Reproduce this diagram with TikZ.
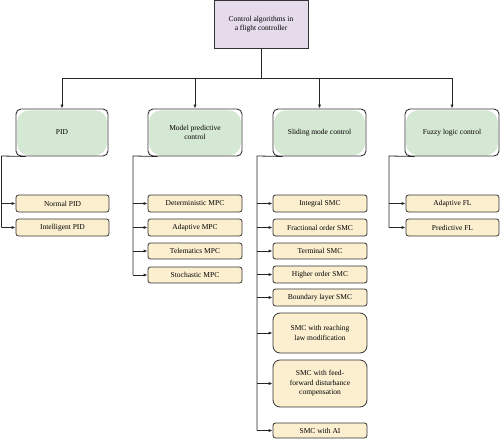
\documentclass[tikz,border=0pt]{standalone}
\usepackage{fontspec}
\setmainfont{Liberation Serif}
\usetikzlibrary{arrows.meta,backgrounds,positioning}
\definecolor{topfill}{HTML}{E6DBEA}
\definecolor{greenfill}{HTML}{D5E8D3}
\definecolor{tanfill}{HTML}{FCEFD0}
\definecolor{edge}{HTML}{333333}
\tikzset{
  topbox/.style={draw=edge, line width=0.9pt, fill=topfill, minimum width=94pt, minimum height=48pt, inner sep=0pt, align=center, font=\fontsize{7.5}{9.5}\selectfont},
  mainbox/.style={draw=edge, line width=0.9pt, rounded corners=5pt, minimum width=92pt, minimum height=47pt, inner sep=0pt, align=center, font=\fontsize{7.5}{9.5}\selectfont},
  leafbox/.style={draw=edge, line width=0.8pt, fill=tanfill, rounded corners=2.5pt, minimum width=93pt, minimum height=17pt, inner sep=0pt, align=center, font=\fontsize{7.5}{9.5}\selectfont},
  bigleaf/.style={leafbox, rounded corners=7pt},
  conn/.style={draw=black!85, line width=0.8pt},
  arr/.style={conn, -{Latex[length=4pt,width=3.2pt]}},
}
\begin{document}
\begin{tikzpicture}[x=1pt,y=-1pt]
\useasboundingbox (0,0) rectangle (500,439);
% top
\node[topbox] (top) at (261,24) {Control algorithms in\\a flight controller};
% level 1
\node[mainbox] (pid) at (62,132.5) {PID};
\node[mainbox, minimum width=94pt] (mpc) at (195,132.5) {Model predictive\\control};
\node[mainbox, minimum width=93pt] (smc) at (319.5,132.5) {Sliding mode control};
\node[mainbox, minimum width=94pt] (flc) at (452,132.5) {Fuzzy logic control};
\begin{scope}[on background layer]
  \foreach \n in {pid,mpc,smc,flc}{
    \fill[greenfill, rounded corners=12pt] ([shift={(1.5,1.8)}]\n.north west) rectangle ([shift={(-1.5,-1.2)}]\n.south east);
  }
\end{scope}
% trunk
\coordinate (hub) at (261,78);
\draw[conn] (top.south) -- (hub);
\draw[conn] (pid.north |- hub) -- (flc.north |- hub);
\foreach \n in {pid,mpc,smc,flc}{
  \draw[arr] (\n.north |- hub) -- (\n.north);
}
% PID leaves
\node[leafbox] (p1) at (62.5,203.5) {Normal PID};
\node[leafbox] (p2) at (62.5,227.5) {Intelligent PID};
% MPC leaves
\node[leafbox, minimum width=94pt] (m1) at (195,203.5) {Deterministic MPC};
\node[leafbox, minimum width=94pt] (m2) at (195,227.5) {Adaptive MPC};
\node[leafbox, minimum width=94pt, minimum height=16pt] (m3) at (195,251) {Telematics MPC};
\node[leafbox, minimum width=94pt, minimum height=16pt] (m4) at (195,275) {Stochastic MPC};
% SMC leaves
\node[leafbox, minimum width=94pt] (s1) at (320,203.5) {Integral SMC};
\node[leafbox, minimum width=94pt] (s2) at (320,227.5) {Fractional order SMC};
\node[leafbox, minimum width=94pt, minimum height=16pt] (s3) at (320,251) {Terminal SMC};
\node[leafbox, minimum width=94pt] (s4) at (320,274.5) {Higher order SMC};
\node[leafbox, minimum width=94pt] (s5) at (320,297.5) {Boundary layer SMC};
\node[bigleaf, minimum width=94pt, minimum height=40pt] (s6) at (320,333) {SMC with reaching\\law modification};
\node[bigleaf, minimum width=94pt, minimum height=47pt] (s7) at (320,383.5) {SMC with feed-\\forward disturbance\\compensation};
\node[leafbox, minimum width=94pt, minimum height=15pt] (s8) at (320,430.5) {SMC with AI};
% FLC leaves
\node[leafbox] (f1) at (452.5,203.5) {Adaptive FL};
\node[leafbox] (f2) at (452.5,227.5) {Predictive FL};
% buses
\coordinate (pbus) at (1.5,156);
\coordinate (mbus) at (133,156);
\coordinate (sbus) at (257,156);
\coordinate (fbus) at (389,156);
\draw[conn] ([xshift=10pt]pid.south west) -- (pbus) -- (pbus |- p2.west);
\draw[conn] ([xshift=10pt]mpc.south west) -- (mbus) -- (mbus |- m4.west);
\draw[conn] ([xshift=10pt]smc.south west) -- (sbus) -- (sbus |- s8.west);
\draw[conn] ([xshift=10pt]flc.south west) -- (fbus) -- (fbus |- f2.west);
\foreach \c in {p1,p2}{ \draw[arr] (pbus |- \c.west) -- (\c.west); }
\foreach \c in {m1,m2,m3,m4}{ \draw[arr] (mbus |- \c.west) -- (\c.west); }
\foreach \c in {s1,s2,s3,s4,s5,s6,s7,s8}{ \draw[arr] (sbus |- \c.west) -- (\c.west); }
\foreach \c in {f1,f2}{ \draw[arr] (fbus |- \c.west) -- (\c.west); }
\end{tikzpicture}
\end{document}
